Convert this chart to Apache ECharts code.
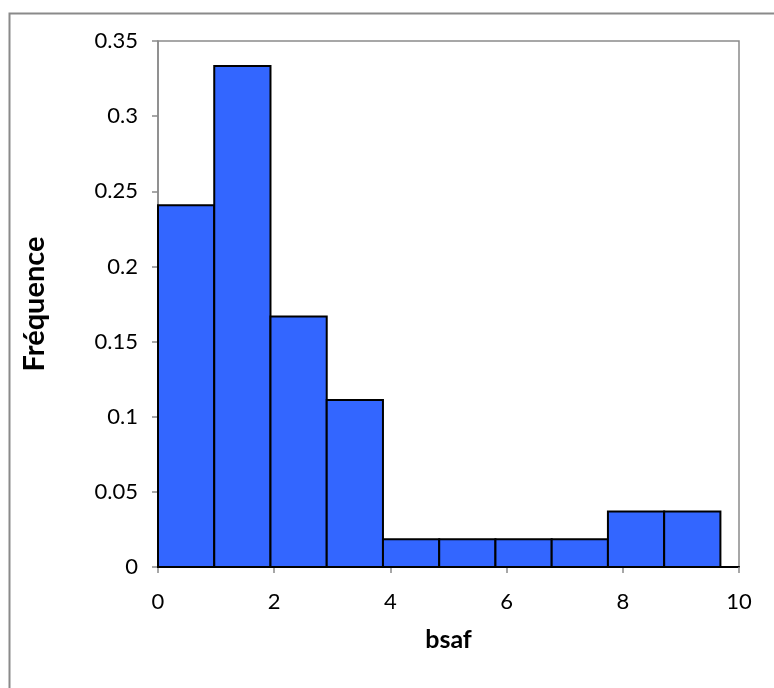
<!DOCTYPE html>
<html>
<head>
<meta charset="utf-8">
<script src="https://cdn.jsdelivr.net/npm/echarts@6/dist/echarts.min.js"></script>
<style>
  html, body { margin: 0; padding: 0; background: #fff; }
  #chart { width: 774px; height: 688px; }
</style>
</head>
<body>
<div id="chart"></div>
<script>
// histogram bins (bsaf) and their relative frequency
const binStarts = [0, 0.968, 1.936, 2.904, 3.872, 4.84, 5.808, 6.776, 7.744, 8.712]
const binEnds = [0.968, 1.936, 2.904, 3.872, 4.84, 5.808, 6.776, 7.744, 8.712, 9.68]
const frequencies = [0.2407, 0.3333, 0.1667, 0.1111, 0.0185, 0.0185, 0.0185, 0.0185, 0.037, 0.037]

const FONT = 'Lato, "Open Sans", sans-serif'

const chart = echarts.init(document.getElementById('chart'))

chart.setOption({
  animation: false,
  backgroundColor: '#fff',
  graphic: [
    { type: 'rect', left: 7, top: 11, shape: { width: 800, height: 700 },
      style: { fill: 'none', stroke: '#8a8a8a', lineWidth: 2 }, silent: true },
  ],
  grid: {
    left: 158, right: 35, top: 41, bottom: 121,
    show: true, borderColor: '#8a8a8a', borderWidth: 1.5,
  },
  xAxis: {
    type: 'value', min: 0, max: 10, interval: 2,
    name: 'bsaf', nameLocation: 'middle', nameGap: 60,
    nameTextStyle: { fontFamily: FONT, fontSize: 25, fontWeight: 'bold', color: '#000' },
    axisLine: { show: true, lineStyle: { color: '#000', width: 2 } },
    axisTick: { show: true, length: 6, lineStyle: { color: '#8a8a8a', width: 1.5 } },
    axisLabel: { fontFamily: FONT, fontSize: 22, color: '#000', margin: 24 },
    splitLine: { show: false },
  },
  yAxis: {
    type: 'value', min: 0, max: 0.35, interval: 0.05,
    name: 'Fréquence', nameLocation: 'middle', nameGap: 109, nameRotate: 90,
    nameTextStyle: { fontFamily: FONT, fontSize: 29, fontWeight: 'bold', color: '#000' },
    axisLine: { show: true, lineStyle: { color: '#8a8a8a', width: 1.5 } },
    axisTick: { show: true, length: 6, lineStyle: { color: '#8a8a8a', width: 1.5 } },
    axisLabel: { fontFamily: FONT, fontSize: 22, color: '#000', margin: 20 },
    splitLine: { show: false },
  },
  series: [{
    type: 'custom',
    data: binStarts.map((s, i) => [s, binEnds[i], frequencies[i]]),
    encode: { x: [0, 1], y: 2 },
    renderItem: (params, api) => {
      const p0 = api.coord([api.value(0), api.value(2)])
      const p1 = api.coord([api.value(1), 0])
      return {
        type: 'rect',
        shape: { x: p0[0], y: p0[1], width: p1[0] - p0[0], height: p1[1] - p0[1] },
        style: { fill: '#3366ff', stroke: '#000', lineWidth: 2 },
      }
    },
  }],
})
</script>
</body>
</html>
